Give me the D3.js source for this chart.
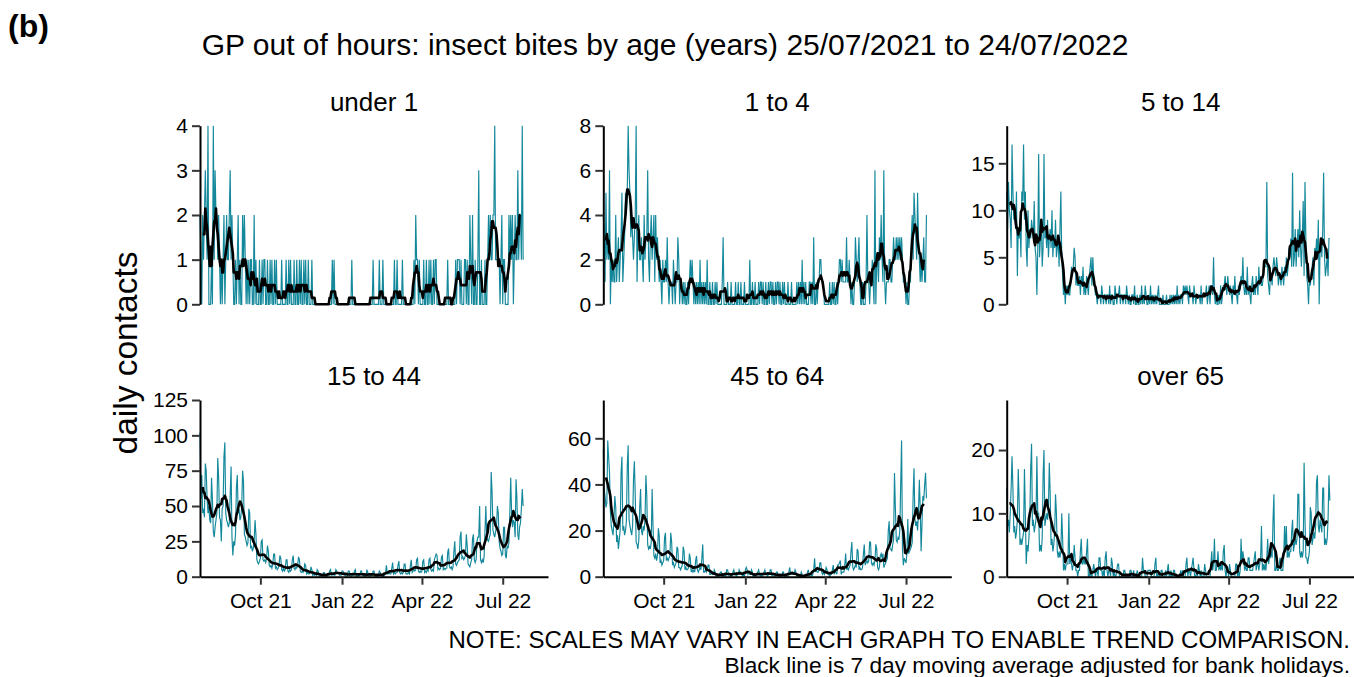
<!DOCTYPE html>
<html>
<head>
<meta charset="utf-8">
<script src="https://cdn.jsdelivr.net/npm/d3@7"></script>
<style>
  body { margin: 0; background: #ffffff; }
  svg { display: block; }
  text { font-family: "Liberation Sans", Arial, sans-serif; fill: #000; }
</style>
</head>
<body>
<svg id="chart" width="1354" height="677"></svg>
<script>
// Daily GP out-of-hours contacts for insect bites, 25/07/2021 (Sunday) to 24/07/2022.
// Each row below is one week, Sunday to Saturday; the final value is 24/07/2022.
const startDate = "2021-07-25";
const axisEndDate = "2022-08-21";
const panelTitles = ["under 1", "1 to 4", "5 to 14", "15 to 44", "45 to 64", "over 65"];
const yMax = [4, 8, 19, 125, 76.6, 27.9];
const yTicks = [[0, 1, 2, 3, 4], [0, 2, 4, 6, 8], [0, 5, 10, 15], [0, 25, 50, 75, 100, 125], [0, 20, 40, 60], [0, 10, 20]];
const xTickDates = ["2021-10-01", "2022-01-01", "2022-04-01", "2022-07-01"];
const xTickLabels = ["Oct 21", "Jan 22", "Apr 22", "Jul 22"];

const under1 = [
  2,1,0,2,1,2,3, 2,1,4,0,0,0,1, 0,4,1,3,2,2,1, 2,1,0,1,0,1,2,
  0,1,2,1,1,2,3, 1,2,1,0,0,1,0, 1,2,0,1,0,0,2, 1,2,1,0,1,0,1,
  0,1,1,0,0,2,0, 1,0,0,0,1,0,0, 1,0,1,1,0,0,1, 0,0,1,0,1,0,0,
  1,0,1,0,0,0,0, 0,1,0,0,0,0,1, 0,0,1,0,1,0,0, 0,1,0,0,1,0,0,
  1,0,1,0,0,1,0, 1,0,0,1,0,0,0, 1,0,0,0,0,0,0, 0,0,0,0,0,0,0,
  0,0,0,0,0,0,0, 0,0,1,0,1,0,0, 0,0,0,0,0,0,0, 0,0,0,0,0,0,0,
  0,0,0,1,0,0,0, 0,0,0,0,0,0,0, 0,0,0,0,0,0,0, 0,0,0,0,0,0,1,
  0,0,0,0,0,0,1, 0,0,0,1,0,0,0, 0,0,0,0,0,0,0, 0,0,1,0,0,1,0,
  0,0,0,0,1,0,0, 0,0,0,0,0,0,0, 0,0,0,1,0,2,1, 1,0,1,0,0,0,0,
  1,0,0,1,0,0,1, 0,1,0,0,1,0,1, 1,0,0,0,0,0,0, 0,0,0,0,0,0,1,
  0,0,0,0,0,0,0, 0,1,0,1,1,1,0, 1,0,0,0,1,1,0, 1,0,0,2,1,0,2,
  0,0,1,0,0,1,3, 0,0,1,0,0,0,1, 0,0,1,2,1,2,1, 1,2,2,4,1,1,1,
  1,1,0,1,2,0,1, 1,0,0,0,0,2,1, 2,1,2,0,1,2,1, 1,3,1,2,2,1,4,
  1
];

const age1to4 = [
  4,3,1,5,2,3,2, 6,0,2,1,2,1,1, 4,1,2,3,1,2,3, 5,1,2,3,5,4,5,
  8,6,5,3,4,3,2, 3,4,8,1,3,4,2, 2,3,2,1,4,2,3, 3,6,2,1,3,4,2,
  3,4,1,4,2,3,2, 1,2,1,0,2,1,1, 2,1,3,1,0,1,1, 1,0,2,1,0,1,1,
  3,2,0,1,1,0,1, 0,1,0,0,1,0,1, 2,1,2,1,0,1,0, 1,0,1,0,2,0,1,
  0,1,0,1,0,2,0, 0,1,0,0,1,0,0, 1,0,1,0,0,0,0, 0,1,3,0,0,0,0,
  1,0,0,0,1,0,0, 0,0,1,0,0,1,0, 0,1,0,0,0,1,0, 0,0,0,0,2,0,0,
  1,0,0,1,0,0,0, 1,0,1,1,0,1,0, 0,1,0,0,1,0,1, 1,0,1,0,0,1,0,
  1,1,0,1,0,0,1, 0,1,0,0,0,1,0, 0,0,1,0,0,0,0, 0,1,0,1,0,1,0,
  2,0,1,0,1,0,0, 0,1,1,0,1,0,3, 0,0,1,0,1,1,2, 2,1,1,1,0,0,0,
  0,0,0,1,0,0,1, 0,1,0,0,1,0,1, 2,2,1,2,1,1,1, 1,3,1,1,2,1,0,
  1,0,0,1,3,2,1, 2,3,1,0,0,1,0, 0,0,1,4,1,1,0, 1,1,2,1,0,6,0,
  2,2,1,3,2,4,2, 1,6,1,0,1,1,1, 2,2,1,1,2,3,2, 2,3,2,3,2,3,2,
  3,2,1,1,1,0,1, 0,0,1,1,3,4,2, 5,4,3,2,5,3,2, 1,2,1,2,3,1,1,
  4
];

const age5to14 = [
  12,8,13,10,9,6,17, 12,9,10,8,12,3,8, 7,9,5,12,11,17,9, 12,6,4,10,6,8,7,
  9,8,7,11,6,5,1, 6,16,5,7,9,4,6, 16,7,8,6,9,5,7, 8,6,10,5,7,6,9,
  5,6,7,4,8,12,5, 3,1,2,0,2,1,2, 1,1,2,4,3,4,6, 5,2,3,2,2,3,1,
  3,2,4,1,2,1,3, 2,1,3,4,5,2,5, 3,2,1,1,0,1,1, 1,0,2,1,0,1,1,
  0,1,1,0,2,0,1, 1,0,0,2,1,0,1, 1,2,0,1,1,0,1, 1,0,2,1,0,1,0,
  0,1,1,0,2,0,0, 1,0,0,1,0,2,0, 1,0,2,1,0,0,1, 0,2,0,1,0,1,0,
  1,0,1,2,0,0,0, 0,1,0,0,0,1,0, 0,0,1,0,1,0,1, 0,1,0,2,0,1,0,
  1,1,0,2,1,2,1, 2,1,0,2,1,1,1, 0,2,1,0,1,1,1, 1,0,2,0,1,1,1,
  1,2,0,1,2,0,2, 2,1,5,1,0,1,0, 0,1,0,2,0,1,2, 2,3,2,1,3,2,1,
  2,1,0,2,1,3,1, 1,0,2,1,2,3,2, 5,2,1,2,1,4,1, 2,1,0,2,3,1,2,
  1,3,2,1,4,2,3, 2,2,3,4,4,4,13, 3,2,1,3,3,2,4, 5,4,3,5,4,2,3,
  3,2,4,3,2,4,3, 5,3,4,6,5,7,4, 14,4,5,8,4,6,8, 5,10,6,4,7,11,3,
  13,7,3,2,0,3,2, 3,4,5,2,6,5,7, 5,9,0,6,7,5,8, 14,5,3,4,5,3,7,
  7
];

const age15to44 = [
  102,55,72,45,48,42,80, 75,55,45,50,40,38,70, 55,32,28,35,40,45,84, 70,42,40,25,48,50,85,
  95,45,40,38,35,38,58, 78,28,15,25,22,30,63, 72,45,48,40,42,50,75, 67,30,28,25,22,24,48,
  45,20,22,18,20,25,40, 30,12,10,9,11,13,25, 26,12,11,12,10,13,22, 18,8,7,8,6,9,16,
  16,6,7,5,6,8,15, 13,5,4,6,4,5,12, 12,4,3,5,4,5,12, 15,6,5,7,6,8,14,
  12,4,3,4,3,4,9, 8,2,3,2,2,3,7, 5,1,2,1,2,1,5, 4,1,0,1,1,0,3,
  3,0,1,0,1,1,4, 5,1,1,2,1,1,5, 4,3,3,1,1,1,4, 4,3,1,1,0,1,4,
  4,1,0,1,1,1,4, 5,0,1,0,1,1,4, 4,1,1,0,1,0,5, 3,1,0,1,1,1,4,
  4,0,1,0,0,1,4, 3,1,0,1,0,1,3, 8,2,2,3,2,2,6, 10,2,3,2,3,3,8,
  11,3,2,3,2,3,9, 9,2,2,2,3,2,8, 12,3,4,5,4,5,12, 13,4,3,4,3,4,11,
  12,3,4,3,5,4,12, 13,5,4,5,4,12,14, 16,15,5,6,5,6,14, 15,5,6,5,6,6,17,
  20,7,6,7,5,7,18, 25,9,8,10,11,12,28, 32,13,14,12,13,15,30, 22,9,8,7,10,12,27,
  30,12,10,12,25,28,28, 50,12,10,12,10,14,32, 50,28,26,25,28,30,74, 60,33,30,28,32,35,50,
  45,25,20,18,15,16,35, 35,15,13,22,20,24,45, 70,45,35,40,38,28,69, 55,30,26,35,38,48,62,
  50
];

const age45to64 = [
  55,38,35,30,32,59,52, 45,28,22,20,18,25,35, 30,15,18,12,16,20,45, 52,20,22,18,20,24,48,
  57,25,22,20,18,22,42, 50,35,15,14,12,16,30, 38,20,18,22,20,25,44, 35,14,12,13,12,15,38,
  22,9,8,10,7,9,21, 18,6,7,5,6,7,17, 19,7,8,7,8,9,19, 15,5,6,4,5,6,13,
  12,4,4,3,4,5,13, 11,3,4,3,3,4,10, 8,2,3,2,3,2,7, 9,3,2,3,4,3,8,
  14,2,2,3,2,3,5, 5,1,1,2,1,1,3, 2,0,1,0,0,1,2, 2,0,1,0,1,0,3,
  3,1,0,0,1,0,2, 3,1,1,0,1,1,3, 2,2,1,0,1,0,3, 4,3,1,2,1,1,3,
  2,0,1,0,0,1,2, 3,1,0,1,0,1,2, 3,1,1,0,1,1,3, 3,0,1,1,0,1,2,
  2,0,0,1,0,0,2, 2,0,1,0,0,0,2, 4,1,1,1,1,1,3, 2,0,1,0,0,0,2,
  1,0,0,0,0,0,2, 3,0,1,1,0,1,3, 8,2,3,2,2,3,6, 6,2,1,2,1,2,4,
  3,1,1,0,1,1,3, 5,1,2,2,1,5,5, 6,7,1,2,2,2,5, 10,3,4,3,4,5,11,
  15,4,3,4,5,4,12, 11,3,4,3,3,4,10, 14,5,6,7,6,7,15, 15,6,5,6,5,7,14,
  12,4,3,4,9,10,8, 10,4,5,6,7,8,20, 24,12,12,11,14,16,45, 30,16,15,17,16,20,40,
  59,12,5,8,7,6,10, 25,10,11,12,13,15,35, 47,25,22,24,20,28,42, 30,11,23,35,33,40,45,
  34
];

const over65 = [
  14,8,9,7,10,14,19, 14,7,8,6,7,9,17, 12,5,6,5,6,7,17, 10,2,5,4,6,9,17,
  21,8,9,7,8,9,19, 10,10,4,5,4,6,16, 20,8,9,10,9,11,18, 13,5,6,4,5,7,13,
  10,4,3,4,3,4,10, 6,1,2,1,2,2,2, 10,2,3,2,1,2,5, 3,1,1,0,1,1,4,
  6,2,2,3,2,2,4, 6,0,0,1,0,0,1, 2,1,0,1,1,0,3, 3,1,1,0,1,0,3,
  4,1,0,1,1,0,3, 2,0,1,0,0,1,2, 2,0,0,0,0,0,1, 1,0,0,0,0,0,1,
  1,0,0,1,0,0,0, 1,0,0,0,0,0,3, 1,1,0,0,0,1,1, 1,1,0,0,0,0,2,
  3,0,0,1,0,0,1, 1,0,0,0,1,0,1, 2,0,0,1,0,0,1, 1,0,0,0,0,0,0,
  1,0,1,0,0,0,2, 3,0,1,1,0,1,2, 3,1,0,0,1,0,2, 1,0,1,0,0,0,2,
  1,0,0,0,0,0,2, 4,1,2,6,1,1,2, 4,1,2,1,2,1,4, 5,1,0,1,1,0,2,
  1,0,0,0,0,0,2, 2,0,1,0,1,6,2, 4,3,1,2,1,1,3, 3,1,1,1,1,2,3,
  4,1,2,2,1,2,3, 8,1,2,1,2,1,3, 6,2,3,3,4,3,9, 13,1,1,2,1,1,2,
  3,1,1,1,3,8,4, 8,3,4,3,4,4,7, 9,4,5,6,5,6,13, 13,4,3,4,3,4,18,
  9,3,3,2,3,4,11, 10,5,6,7,6,8,15, 16,8,7,9,8,7,14, 14,5,6,5,6,9,16,
  12
];

const seriesList = [under1, age1to4, age5to14, age15to44, age45to64, over65];

// Layout of the 3 x 2 grid of panels
const colLeft = [200, 603.3, 1006.7];
const panelWidth = 348;
const rowTop = [125.7, 400];
const rowBottom = [304.3, 576.7];
const tealColour = "#13889b";
const fontStack = "'Liberation Sans', Arial, sans-serif";

const parseDate = d3.utcParse("%Y-%m-%d");
const start = parseDate(startDate);
const svg = d3.select("#chart");

// Centred 7 day moving average (only where the full window is available)
function movingAverage(values) {
  const out = [];
  for (let i = 3; i < values.length - 3; i++) {
    out.push({ i, v: d3.mean(values.slice(i - 3, i + 4)) });
  }
  return out;
}

seriesList.forEach((values, k) => {
  const row = Math.floor(k / 3), col = k % 3;
  const x0 = colLeft[col];
  const x = d3.scaleUtc()
    .domain([start, parseDate(axisEndDate)])
    .range([x0, x0 + panelWidth]);
  const y = d3.scaleLinear()
    .domain([0, yMax[k]])
    .range([rowBottom[row], rowTop[row]]);
  const dateOf = i => d3.utcDay.offset(start, i);

  const g = svg.append("g");

  // Facet title
  g.append("text")
    .attr("x", x0 + panelWidth / 2)
    .attr("y", rowTop[row] - 15)
    .attr("text-anchor", "middle")
    .attr("font-size", 26)
    .text(panelTitles[k]);

  // Daily counts
  g.append("path")
    .datum(values)
    .attr("fill", "none")
    .attr("stroke", tealColour)
    .attr("stroke-width", 1.15)
    .attr("d", d3.line().x((d, i) => x(dateOf(i))).y(d => y(d)));

  // 7 day moving average
  g.append("path")
    .datum(movingAverage(values))
    .attr("fill", "none")
    .attr("stroke", "#000")
    .attr("stroke-width", 2.6)
    .attr("stroke-linejoin", "round")
    .attr("d", d3.line().x(d => x(dateOf(d.i))).y(d => y(d.v)));

  // y axis
  const yAxis = g.append("g")
    .attr("transform", `translate(${x0},0)`)
    .call(d3.axisLeft(y).tickValues(yTicks[k]).tickFormat(d3.format("d"))
      .tickSize(8).tickPadding(4).tickSizeOuter(0));
  yAxis.select(".domain").attr("stroke", "#000").attr("stroke-width", 2);
  yAxis.selectAll(".tick line").attr("stroke", "#333").attr("stroke-width", 2);
  yAxis.selectAll(".tick text").attr("font-size", 21).attr("fill", "#000")
    .attr("font-family", fontStack);

  // x axis only on the bottom row
  if (row === 1) {
    const xAxis = g.append("g")
      .attr("transform", `translate(0,${rowBottom[row]})`)
      .call(d3.axisBottom(x)
        .tickValues(xTickDates.map(parseDate))
        .tickFormat((d, i) => xTickLabels[i])
        .tickSize(8).tickPadding(8).tickSizeOuter(0));
    xAxis.select(".domain").attr("stroke", "#000").attr("stroke-width", 2);
    xAxis.selectAll(".tick line").attr("stroke", "#333").attr("stroke-width", 2);
    xAxis.selectAll(".tick text").attr("font-size", 21).attr("fill", "#000")
      .attr("font-family", fontStack);
  }
});

// Figure label, title, axis title and notes
svg.append("text").attr("x", 8).attr("y", 37)
  .attr("font-size", 32).attr("font-weight", "bold").text("(b)");
svg.append("text").attr("x", 665).attr("y", 55).attr("text-anchor", "middle")
  .attr("font-size", 30).text("GP out of hours: insect bites by age (years) 25/07/2021 to 24/07/2022");
svg.append("text").attr("transform", "translate(137,353) rotate(-90)")
  .attr("text-anchor", "middle").attr("font-size", 33.5).text("daily contacts");
svg.append("text").attr("x", 1350).attr("y", 648).attr("text-anchor", "end")
  .attr("font-size", 24).text("NOTE: SCALES MAY VARY IN EACH GRAPH TO ENABLE TREND COMPARISON.");
svg.append("text").attr("x", 1350).attr("y", 673).attr("text-anchor", "end")
  .attr("font-size", 22.7).text("Black line is 7 day moving average adjusted for bank holidays.");
</script>
</body>
</html>
